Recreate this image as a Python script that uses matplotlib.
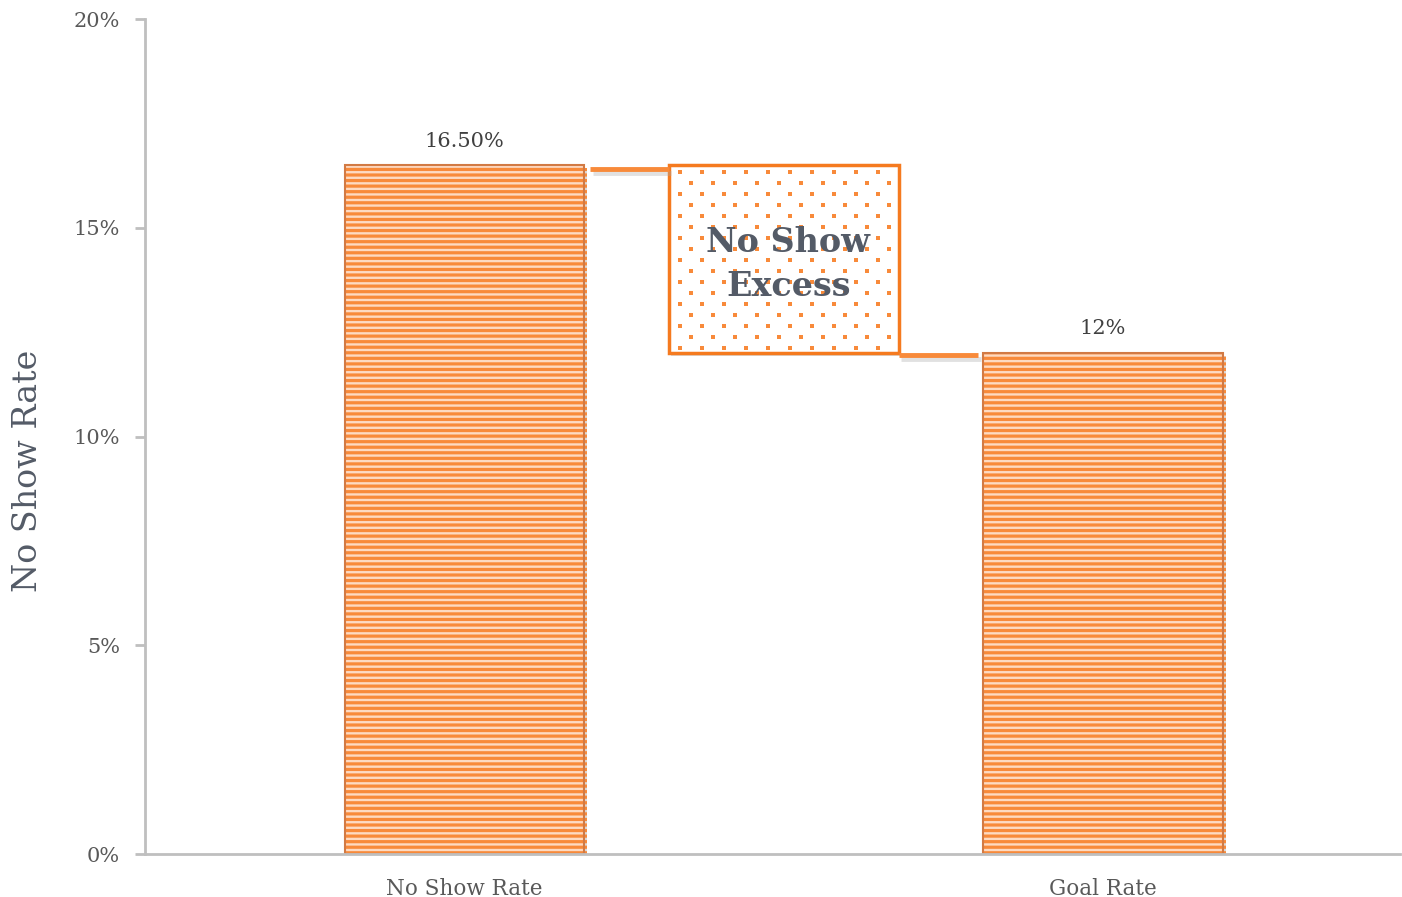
import numpy as np
import matplotlib.pyplot as plt
import matplotlib.patheffects as pe
from matplotlib.ticker import FuncFormatter

# no-show waterfall: actual rate, excess over goal, goal rate
categories = ["No Show Rate", "", "Goal Rate"]
actual_rate = 16.5
goal_rate = 12.0
excess = actual_rate - goal_rate
bar_labels = ["16.50%", "12%"]
yticks = [0, 5, 10, 15, 20]

orange = "#F88A3A"
peach = "#FDDAC2"
gray = "#595959"
spine_gray = "#BFBFBF"
text_dark = "#545B67"

plt.rcParams["font.family"] = ["DejaVu Serif"]
plt.rcParams["hatch.linewidth"] = 2.3

fig = plt.figure(figsize=(14.02, 8.97), dpi=100)
ax = fig.add_axes([0.1034, 0.0479, 0.8952, 0.9309])

shadow = [pe.SimplePatchShadow(offset=(2, -2), shadow_rgbFace="#999999", alpha=0.35), pe.Normal()]

w = 0.75
# striped fill (hatch takes the edge colour), then a darker outline on top
bars = ax.bar([0, 2], [actual_rate, goal_rate], width=w, color=peach,
              edgecolor=orange, linewidth=0, hatch="---", zorder=2)
for b in bars:
    b.set_path_effects(shadow)
ax.bar([0, 2], [actual_rate, goal_rate], width=w, fill=False,
       edgecolor="#D27A44", linewidth=1.5, zorder=2)

# excess box floating between goal and actual
bw = 0.72
box = ax.bar([1], [excess], bottom=[goal_rate], width=bw, color="white",
             edgecolor="#F57A1F", linewidth=2.5, zorder=2)
box[0].set_path_effects(shadow)

# small staggered dot fill inside the box
dx, dy = 0.069, 0.263
rows = np.arange(goal_rate + dy / 2, actual_rate - 0.05, dy)
px, py = [], []
for i, yy in enumerate(rows):
    xs = np.arange(1 - bw / 2 + 0.035 + (dx / 2 if i % 2 else 0), 1 + bw / 2 - 0.01, dx)
    px.extend(xs)
    py.extend([yy] * len(xs))
ax.scatter(px, py, s=5, marker="s", color=orange, linewidths=0, zorder=3)

line_fx = [pe.SimpleLineShadow(offset=(2, -3), shadow_color="#aaaaaa", alpha=0.35), pe.Normal()]
ax.plot([w / 2 + 0.02, 1 - bw / 2], [actual_rate - 0.1, actual_rate - 0.1],
        color=orange, lw=3.5, solid_capstyle="butt", path_effects=line_fx, zorder=3)
ax.plot([1 + bw / 2, 2 - w / 2 - 0.015], [goal_rate - 0.05, goal_rate - 0.05],
        color=orange, lw=3.5, solid_capstyle="butt", path_effects=line_fx, zorder=3)

ax.text(1.014, 14.12, "No Show\nExcess", ha="center", va="center",
        fontsize=24, fontweight="bold", color=text_dark, linespacing=1.45, zorder=4)

for x, v, lab in zip([0, 2], [actual_rate, goal_rate], bar_labels):
    ax.text(x, v + 0.35, lab, ha="center", va="bottom", fontsize=15, color="#404040")

ax.set_xlim(-1, 2.93)
ax.set_ylim(0, 20)
ax.set_yticks(yticks)
ax.yaxis.set_major_formatter(FuncFormatter(lambda v, p: f"{v:.0f}%"))
ax.set_xticks([0, 1, 2])
ax.set_xticklabels(categories)
ax.tick_params(axis="x", length=0, pad=17, labelsize=15.5, labelcolor=gray)
ax.tick_params(axis="y", length=7, width=2, color=spine_gray, labelsize=15, labelcolor=gray, pad=11)
fig.text(28 / 1402, 1 - 471 / 897, "No Show Rate", rotation=90, ha="center", va="center",
         fontsize=24, color=text_dark)

for s in ["top", "right"]:
    ax.spines[s].set_visible(False)
for s in ["left", "bottom"]:
    ax.spines[s].set_color(spine_gray)
    ax.spines[s].set_linewidth(2)

fig.savefig("out.png", dpi=100)
